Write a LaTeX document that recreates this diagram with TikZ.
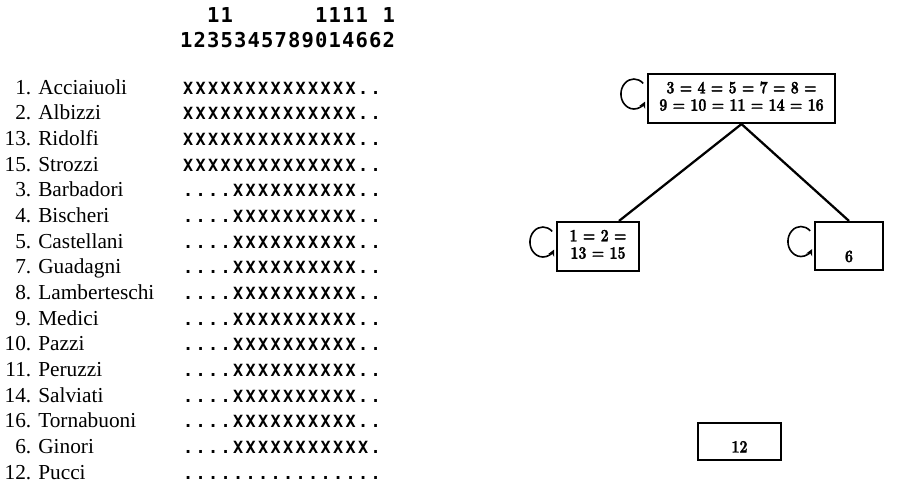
\documentclass[tikz,border=0pt]{standalone}
\usepackage{fontspec}
\usepackage{graphicx}
\newfontfamily\namefont{Liberation Serif}
\newfontfamily\gridfont{DejaVu Sans Mono}
\newfontfamily\blockfont{Latin Modern Roman}[BoldFeatures={FakeBold=2}]
\usetikzlibrary{arrows.meta,calc}

% one drawing unit
\newdimen\pxu \pxu=0.75pt

% set a string one character per fixed-width cell;
% '-' is an empty cell, 'o' a dot
\def\gridscan#1{\ifx#1\relax\else\makebox[\gridcw][c]{\ifx#1-\else\ifx#1o.\else#1\fi\fi}\expandafter\gridscan\fi}
\newcommand\gridrow[2]{\def\gridcw{#1}\expandafter\gridscan#2\relax}

% condensed block labels
\newcommand\blocktext[1]{\scalebox{0.82}[1]{\begin{tabular}{@{}c@{}}#1\end{tabular}}}
\newcommand\lowtext[2]{\raisebox{-#1\pxu}[0pt][0pt]{\scalebox{0.82}[1]{#2}}}

\tikzset{
  hdr/.style={inner sep=0pt, anchor=base west,
    font=\gridfont\bfseries\fontsize{15.4pt}{16pt}\selectfont},
  famname/.style={inner sep=0pt, anchor=base west,
    font=\namefont\fontsize{16pt}{18pt}\selectfont},
  famgrid/.style={inner sep=0pt, anchor=base west,
    font=\gridfont\bfseries\fontsize{12.6pt}{14pt}\selectfont},
  blockbox/.style={draw, line width=1.6pt, inner sep=0pt,
    font=\blockfont\bfseries\fontsize{13pt}{13pt}\selectfont},
  treeline/.style={line width=1.7pt},
  selfloop/.style={line width=1.2pt, -{Stealth[length=5pt,width=5pt]}}
}

\begin{document}
\begin{tikzpicture}[x=\pxu, y=-\pxu]
\useasboundingbox (0,0) rectangle (897,497);

% column header
\node[hdr] (h1) at (179.25,22) {\gridrow{10.125pt}{--11------1111-1}};
\node[hdr] (h2) at (179.25,47) {\gridrow{10.125pt}{1235345789014662}};

% families and their rows
\foreach \i/\n/\nm/\p in {
   0/1/Acciaiuoli/XXXXXXXXXXXXXXoo,
   1/2/Albizzi/XXXXXXXXXXXXXXoo,
   2/13/Ridolfi/XXXXXXXXXXXXXXoo,
   3/15/Strozzi/XXXXXXXXXXXXXXoo,
   4/3/Barbadori/ooooXXXXXXXXXXoo,
   5/4/Bischeri/ooooXXXXXXXXXXoo,
   6/5/Castellani/ooooXXXXXXXXXXoo,
   7/7/Guadagni/ooooXXXXXXXXXXoo,
   8/8/Lamberteschi/ooooXXXXXXXXXXoo,
   9/9/Medici/ooooXXXXXXXXXXoo,
  10/10/Pazzi/ooooXXXXXXXXXXoo,
  11/11/Peruzzi/ooooXXXXXXXXXXoo,
  12/14/Salviati/ooooXXXXXXXXXXoo,
  13/16/Tornabuoni/ooooXXXXXXXXXXoo,
  14/6/Ginori/ooooXXXXXXXXXXXo,
  15/12/Pucci/oooooooooooooooo}{
  \node[famname] (n\n) at (0,{94+25.67*\i})
    {\makebox[31\pxu][r]{\n.}\hspace{7\pxu}\nm};
  \node[famgrid] (g\n) at (181.75,{94+25.67*\i}) {\gridrow{9.375pt}{\p}};
}

% blocks
\node[blockbox, minimum width=187\pxu, minimum height=49\pxu] (top) at (741.5,98.5)
  {\blocktext{3 = 4 = 5 = 7 = 8 =\\9 = 10 = 11 = 14 = 16}};
\node[blockbox, minimum width=82\pxu, minimum height=49\pxu] (lb) at (598,246.5)
  {\blocktext{1 = 2 =\\13 = 15}};
\node[blockbox, minimum width=68\pxu, minimum height=48\pxu] (rb) at (849,246)
  {\lowtext{16}{6}};
\node[blockbox, minimum width=83\pxu, minimum height=37\pxu] (pb) at (739.5,441.5)
  {\lowtext{11}{12}};

% tree
\draw[treeline] (top.south) -- ($(lb.north)!0.5!(lb.north east)$);
\draw[treeline] (top.south) -- (rb.north);

% self ties
\foreach \b in {top,lb,rb}{
  \draw[selfloop] ([shift={(-3.8,-15.1)}]\b.west)
    arc[start angle=-45, end angle=-330, x radius=13, y radius=15];
}
\end{tikzpicture}
\end{document}
